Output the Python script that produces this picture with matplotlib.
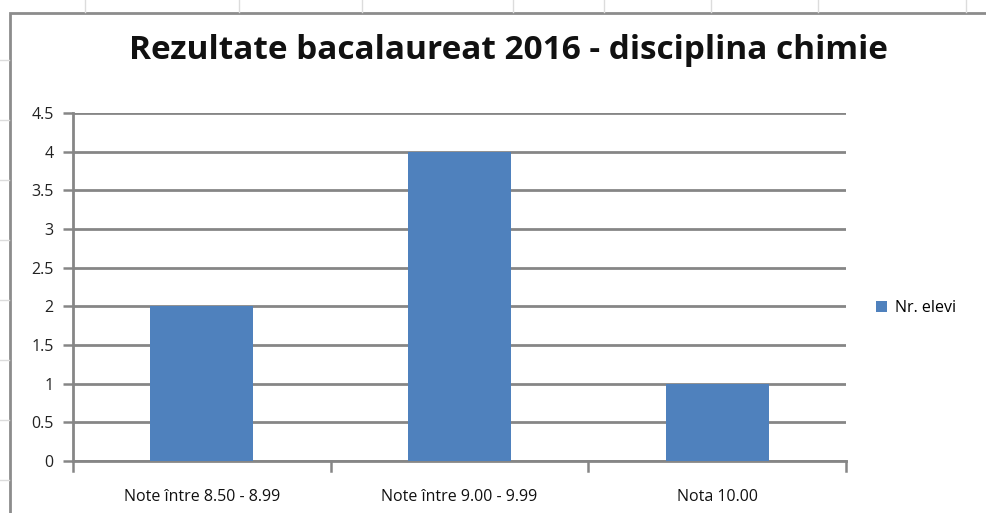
import numpy as np
import matplotlib.pyplot as plt
from matplotlib.patches import Rectangle
from matplotlib.lines import Line2D

categories = ["Note între 8.50 - 8.99", "Note între 9.00 - 9.99", "Nota 10.00"]
nr_elevi = [2, 4, 1]
yticks = [0, 0.5, 1, 1.5, 2, 2.5, 3, 3.5, 4, 4.5]
ytick_labels = ["0", "0.5", "1", "1.5", "2", "2.5", "3", "3.5", "4", "4.5"]

plt.rcParams['font.family'] = ['Liberation Sans Narrow', 'Open Sans', 'DejaVu Sans']

fig = plt.figure(figsize=(9.87, 5.13), dpi=100)
W, H = 987, 513

# spreadsheet background cells
for x in [85, 239, 362, 513, 604, 711, 818, 966]:
    fig.add_artist(Line2D([x / W, x / W], [1, 1 - 12 / H], color="#dcdcdc", lw=1))
for y in [60, 120, 180, 240, 300, 360, 420, 480]:
    fig.add_artist(Line2D([0, 9 / W], [1 - y / H, 1 - y / H], color="#dcdcdc", lw=1))
# chart area border
fig.add_artist(Rectangle((10 / W, -0.01), 1.0, 1 - 13 / H + 0.01, transform=fig.transFigure,
                         facecolor="white", edgecolor="#8c8c8c", lw=2, zorder=0))

ax = fig.add_axes([73 / W, 1 - 461 / H, (846 - 73) / W, (461 - 113) / H])
ax.set_facecolor("none")
x = np.arange(len(categories))
ax.bar(x, nr_elevi, width=0.40, color="#4F81BD", label="Nr. elevi", zorder=3)

ax.set_xlim(-0.5, len(categories) - 0.5)
ax.set_ylim(0, 4.5)
ax.set_yticks(yticks)
ax.set_yticklabels(ytick_labels, fontsize=11.5, color="#222222")
ax.set_xticks(x)
ax.set_xticklabels(categories, fontsize=11.5, color="#111111")
ax.tick_params(axis="x", length=0, pad=20)
ax.tick_params(axis="y", length=7, width=1.8, color="#868686", pad=7)
for b in np.arange(-0.5, len(categories), 1.0):
    ax.plot([b, b], [0, -0.13], color="#868686", lw=1.8, clip_on=False, zorder=4)

ax.grid(axis="y", color="#868686", lw=2, zorder=1)
for s in ["top", "right"]:
    ax.spines[s].set_visible(False)
for s in ["left", "bottom"]:
    ax.spines[s].set_color("#868686")
    ax.spines[s].set_linewidth(2)

fig.text(508 / W, 1 - 51 / H, "Rezultate bacalaureat 2016 - disciplina chimie",
         ha="center", va="center", fontsize=24, fontweight="bold", color="#111111")

ax.legend(loc="center left", bbox_to_anchor=(1.02, 0.44), frameon=False, fontsize=11.5,
          handlelength=0.7, handleheight=0.7, handletextpad=0.5)

plt.savefig("out.png", dpi=100)
